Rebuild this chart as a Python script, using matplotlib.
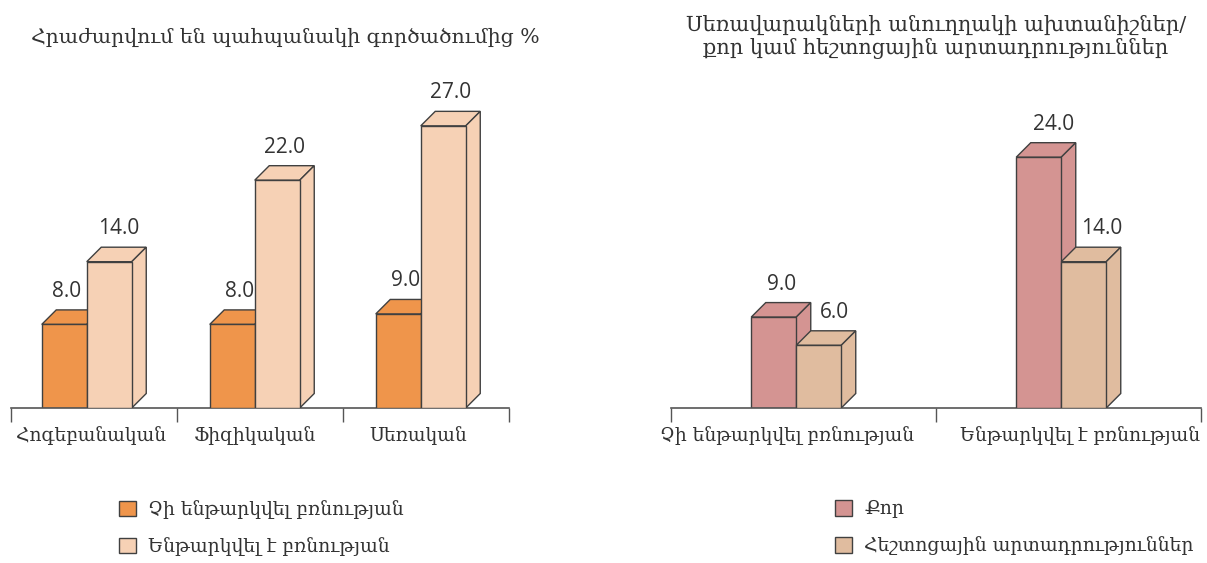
import matplotlib
matplotlib.use('Agg')
import matplotlib.pyplot as plt
from matplotlib.patches import Polygon, Patch
import numpy as np

W, H = 1207, 563
PX_PER_UNIT = 10.45
BASE_Y = 408
TOP_Y = 60
BAR_PX = 45
DEPTH_PX = 14.5
SERIF = 'DejaVu Serif'
TXT = '#333333'
EDGE = '#404040'

left_title = 'Հրաժարվում են պահպանակի գործածումից %'
left_cats = ['Հոգեբանական', 'Ֆիզիկական', 'Սեռական']
left_names = ['Չի ենթարկվել բռնության', 'Ենթարկվել է բռնության']
left_a = [8.0, 8.0, 9.0]
left_b = [14.0, 21.8, 27.0]
left_colors = ['#EF954B', '#F6D1B5']

right_title = 'Սեռավարակների անուղղակի ախտանիշներ/\nքոր կամ հեշտոցային արտադրություններ'
right_cats = ['Չի ենթարկվել բռնության', 'Ենթարկվել է բռնության']
right_names = ['Քոր', 'Հեշտոցային արտադրություններ']
right_a = [8.7, 24.0]
right_b = [6.0, 14.0]
right_colors = ['#D49492', '#E0BC9F']


def draw_bar(ax, x, val, w, dx, dy, color, z):
    # front face comes from ax.bar, side and top are offset copies
    top = Polygon([(x, val), (x + dx, val + dy), (x + w + dx, val + dy), (x + w, val)],
                  fc=color, ec=EDGE, lw=1, zorder=z)
    side = Polygon([(x + w, 0), (x + w + dx, dy), (x + w + dx, val + dy), (x + w, val)],
                   fc=color, ec=EDGE, lw=1, zorder=z)
    ax.add_patch(top)
    ax.add_patch(side)
    ax.bar(x, val, w, align='edge', color=color, edgecolor=EDGE, lw=1, zorder=z + 0.1)


def panel(x0, x1, cats, a, b, colors, bar_shift, lab_shift_a, lab_shift_b, cat_shift):
    ax = fig.add_axes([x0 / W, 1 - BASE_Y / H, (x1 - x0) / W, (BASE_Y - TOP_Y) / H])
    n = len(cats)
    ax.set_xlim(0, n)
    ax.set_ylim(0, (BASE_Y - TOP_Y) / PX_PER_UNIT)
    px = (x1 - x0) / n
    w = BAR_PX / px
    dx = DEPTH_PX / px
    dy = DEPTH_PX / PX_PER_UNIT
    for i in range(n):
        start = i + 0.5 - (2 * w + dx) / 2 + bar_shift[i] / px
        draw_bar(ax, start, a[i], w, dx, dy, colors[0], 2 + i)
        draw_bar(ax, start + w, b[i], w, dx, dy, colors[1], 2.5 + i)
        for x, v, s in ((start, a[i], lab_shift_a[i]), (start + w, b[i], lab_shift_b[i])):
            # bar labels are whole numbers shown with one decimal
            ax.text(x + w / 2 + dx / 2 + s / px, v + 33 / PX_PER_UNIT, '%.1f' % round(v),
                    ha='center', va='center', fontsize=15, family='Open Sans',
                    color=TXT, zorder=20)
    for s in ('top', 'left', 'right'):
        ax.spines[s].set_visible(False)
    ax.spines['bottom'].set_color('#555555')
    ax.spines['bottom'].set_linewidth(1.2)
    ax.patch.set_alpha(0)
    ax.set_yticks([])
    ax.set_xticks(np.arange(n + 1))
    ax.set_xticklabels([])
    ax.tick_params(axis='x', which='major', length=10, width=1, color='#555555')
    ax.set_xticks(np.arange(n) + 0.5 + np.array(cat_shift) / px, minor=True)
    ax.set_xticklabels(cats, minor=True, family=SERIF, fontsize=13.4, color=TXT)
    ax.tick_params(axis='x', which='minor', length=0, pad=13)
    return ax


def legend(x, y, names, colors):
    handles = [Patch(fc=c, ec=EDGE, lw=1) for c in colors]
    fig.legend(handles, names, loc='upper left', bbox_to_anchor=(x / W, 1 - y / H),
               frameon=False, prop={'family': SERIF, 'size': 13.5}, labelcolor=TXT,
               handlelength=0.9, handleheight=0.9, handletextpad=0.64,
               labelspacing=0.97, borderpad=0, borderaxespad=0)


fig = plt.figure(figsize=(W / 100, H / 100), dpi=100)

panel(11, 509, left_cats, left_a, left_b, left_colors,
      [0, 2, 2], [-5, 0, 0], [2, 0, 0], [-3, -5, -8])
panel(671, 1201, right_cats, right_a, right_b, right_colors,
      [0, 0], [1, 8], [8, 11], [-16, 12])

fig.text(285 / W, 1 - 37 / H, left_title, ha='center', va='center',
         family=SERIF, fontsize=14.7, color=TXT)
fig.text(936 / W, 1 - 37 / H, right_title, ha='center', va='center',
         family=SERIF, fontsize=15, color=TXT, linespacing=1.22)

legend(119, 500, left_names, left_colors)
legend(835, 500, right_names, right_colors)

fig.savefig('out.png', dpi=100)
